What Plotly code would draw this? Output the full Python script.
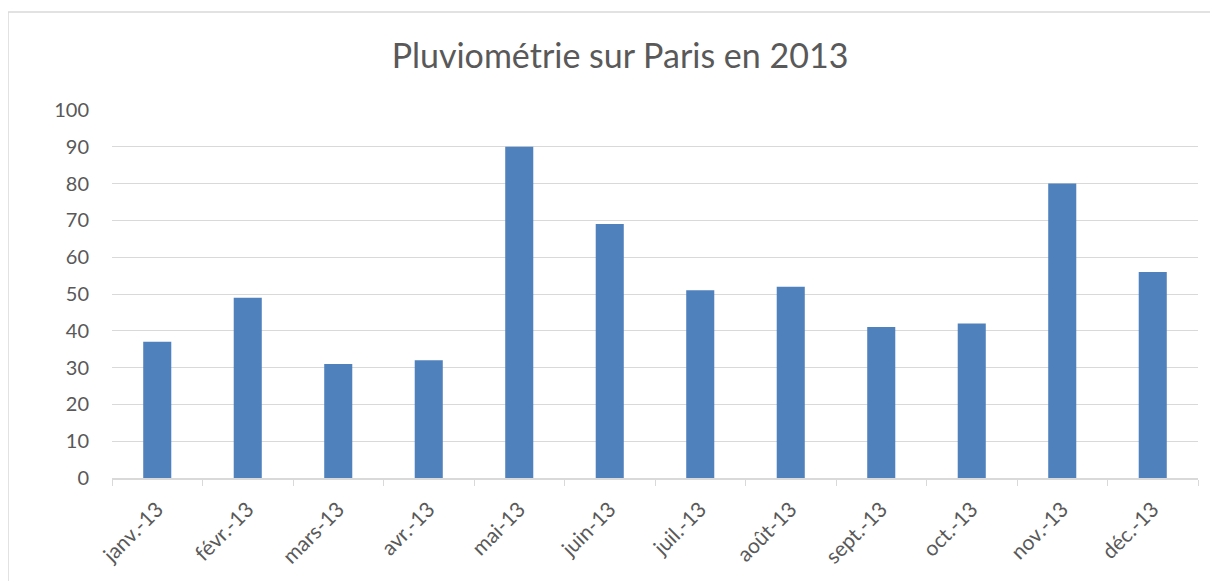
import plotly.graph_objects as go

months = ["janv.-13", "févr.-13", "mars-13", "avr.-13", "mai-13", "juin-13",
          "juil.-13", "août-13", "sept.-13", "oct.-13", "nov.-13", "déc.-13"]
rain = [37, 49, 31, 32, 90, 69, 51, 52, 41, 42, 80, 56]
y_ticks = [0, 10, 20, 30, 40, 50, 60, 70, 80, 90, 100]

W, H = 1218, 581
OFF = 8  # page body margin
L, T = 112 - OFF, 110 - OFF
R = W - (1198 - OFF)
B = H - (478 - OFF)
pw, ph = W - L - R, H - T - B

fig = go.Figure(go.Bar(x=months, y=rain, marker_color="#4f81bd",
                       marker_line_width=0, width=0.31))

grey = "#595959"
fig.update_layout(
    width=W, height=H,
    margin=dict(l=L, r=R, t=T, b=B, autoexpand=False),
    paper_bgcolor="white", plot_bgcolor="white",
    font=dict(family="Lato, Open Sans, sans-serif", color=grey),
    title=dict(text="Pluviométrie sur Paris en 2013", x=(620 - OFF) / W, xanchor="center",
               y=1 - (56 - OFF) / H, yanchor="middle",
               font=dict(size=34, color=grey)),
    showlegend=False,
)
fig.update_xaxes(
    type="category", tickangle=-45, tickfont=dict(size=21, color=grey),
    showline=True, linecolor="#d9d9d9", linewidth=1.5,
    ticks="outside", tickson="boundaries", ticklen=6, tickcolor="#d9d9d9",
    showgrid=False, automargin=False, ticklabelstandoff=9,
)
fig.update_yaxes(
    range=[0, 100], tickvals=y_ticks, tickfont=dict(size=20, color=grey),
    showgrid=True, gridcolor="#d9d9d9", gridwidth=1, zeroline=False,
    showline=False, ticklabelstandoff=22, automargin=False,
)
# outer chart border
fig.add_shape(type="rect", xref="paper", yref="paper",
              x0=(8 - OFF - L) / pw, x1=(W + 20 - L) / pw,
              y0=-(B + 20) / ph, y1=1 + (T - (12 - OFF)) / ph,
              line=dict(color="#d9d9d9", width=1.5), fillcolor="rgba(0,0,0,0)",
              layer="below")

fig.write_html("out.html")
